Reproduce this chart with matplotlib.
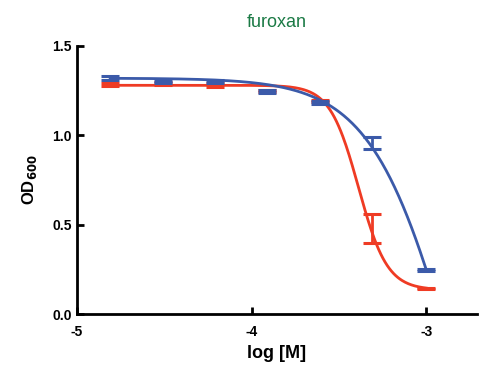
import matplotlib
matplotlib.use("Agg")
import matplotlib.pyplot as plt
import numpy as np

plt.rcParams["font.family"] = ["Liberation Sans", "DejaVu Sans"]

# concentrations (log M), two-fold dilutions
log_conc = [-4.81, -4.51, -4.21, -3.91, -3.61, -3.31, -3.0]

blue_mean = [1.322, 1.300, 1.302, 1.245, 1.185, 0.958, 0.245]
blue_err = [0.012, 0.006, 0.010, 0.008, 0.008, 0.035, 0.006]

red_mean = [1.285, 1.290, 1.282, 1.248, 1.190, 0.48, 0.143]
red_err = [0.008, 0.010, 0.012, 0.006, 0.006, 0.082, 0.005]

# 4-parameter logistic fits: top, bottom, logEC50, hill
blue_fit = (1.32, -2.0, -2.822, 1.8)
red_fit = (1.28, 0.135, -3.388, 5.29)

BLUE = "#3b5aa9"
RED = "#ef3b24"


def logistic(x, top, bottom, c, h):
    return bottom + (top - bottom) / (1 + 10 ** ((x - c) * h))


fig = plt.figure(figsize=(4.81, 3.67), dpi=100)
ax = fig.add_axes([0.160, 0.1444, 0.8317, 0.7303])

xs = np.linspace(-4.81, -3.0, 300)
ax.plot(xs, logistic(xs, *red_fit), color=RED, lw=2.0, zorder=2)
ax.plot(xs, logistic(xs, *blue_fit), color=BLUE, lw=2.0, zorder=3)

ax.errorbar(log_conc, red_mean, yerr=red_err, fmt="none", ecolor=RED,
            elinewidth=2, capsize=6.5, capthick=2.2, zorder=2)
ax.errorbar(log_conc, blue_mean, yerr=blue_err, fmt="none", ecolor=BLUE,
            elinewidth=2, capsize=6.5, capthick=2.2, zorder=3)

ax.set_xlim(-5, -2.71)
ax.set_ylim(0, 1.5)
ax.set_xticks([-5, -4, -3])
ax.set_xticklabels(["-5", "-4", "-3"])
ax.set_yticks([0, 0.5, 1.0, 1.5])
ax.set_yticklabels(["0.0", "0.5", "1.0", "1.5"])

for s in ["top", "right"]:
    ax.spines[s].set_visible(False)
for s in ["left", "bottom"]:
    ax.spines[s].set_linewidth(2.0)
ax.tick_params(direction="in", width=2.0, length=5, labelsize=10)
ax.tick_params(axis="y", pad=3.5)
ax.tick_params(axis="x", pad=8)
for lab in ax.get_xticklabels() + ax.get_yticklabels():
    lab.set_fontweight("bold")

ax.set_xlabel("log [M]", fontsize=13, fontweight="bold", labelpad=4)
ax.set_ylabel("OD$_{\\mathbf{600}}$", fontsize=12, fontweight="bold", labelpad=10)
ax.set_title("furoxan", color="#1b7a45", fontsize=13, pad=14)

fig.savefig("out.png", dpi=100)
